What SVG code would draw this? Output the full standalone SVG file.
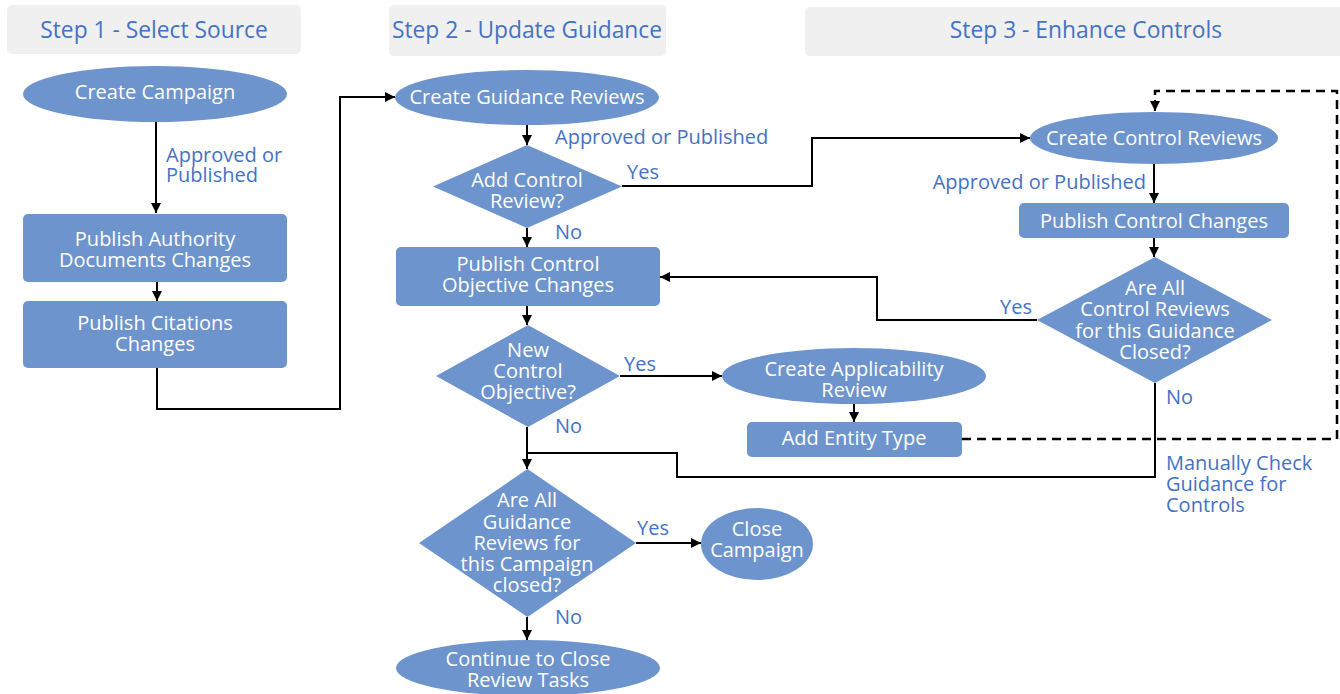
<svg xmlns="http://www.w3.org/2000/svg" width="1340" height="694" viewBox="0 0 1340 694">
<style>
.hdr{fill:#f0f0f0}
.ht{font-family:"Open Sans",sans-serif;font-size:22.8px;fill:#4472c4;text-anchor:middle}
.n{fill:#6d94cc}
.t{font-family:"Open Sans",sans-serif;font-size:20px;fill:#ffffff;text-anchor:middle}
.l{font-family:"Open Sans",sans-serif;font-size:20px;fill:#4472c4}
.c{fill:none;stroke:#000;stroke-width:2}
.d{fill:none;stroke:#000;stroke-width:2.5;stroke-dasharray:9 6}
</style>
<defs>
<marker id="a" viewBox="0 0 10 10" refX="10" refY="5" markerWidth="10" markerHeight="10" markerUnits="userSpaceOnUse" orient="auto">
<path d="M0,0 L10,5 L0,10 z" fill="#000"/>
</marker>
</defs>
<rect width="1340" height="694" fill="#fff"/>
<g id="headers">
<rect class="hdr" x="7" y="5" width="294" height="49" rx="5"/>
<text class="ht" x="154" y="38">Step 1 - Select Source</text>
<rect class="hdr" x="389" y="5" width="277" height="51" rx="5"/>
<text class="ht" x="527" y="38">Step 2 - Update Guidance</text>
<rect class="hdr" x="805" y="7" width="540" height="49" rx="5"/>
<text class="ht" x="1086" y="38">Step 3 - Enhance Controls</text>
</g>
<g id="connectors">
<path class="c" d="M156,122 V213" marker-end="url(#a)"/>
<path class="c" d="M157,282 V301" marker-end="url(#a)"/>
<path class="c" d="M157,368 V409 H340 V97 H395" marker-end="url(#a)"/>
<path class="c" d="M527,125 V145" marker-end="url(#a)"/>
<path class="c" d="M622,186 H812 V138 H1030" marker-end="url(#a)"/>
<path class="c" d="M527,228 V247" marker-end="url(#a)"/>
<path class="c" d="M1037,320 H877 V277 H660" marker-end="url(#a)"/>
<path class="c" d="M527,306 V325" marker-end="url(#a)"/>
<path class="c" d="M620,376 H722" marker-end="url(#a)"/>
<path class="c" d="M854,404 V422" marker-end="url(#a)"/>
<path class="c" d="M527,427 V469" marker-end="url(#a)"/>
<path class="c" d="M1155,383 V477 H677 V453 H527"/>
<path class="c" d="M1154,164 V203" marker-end="url(#a)"/>
<path class="c" d="M1154,238 V257" marker-end="url(#a)"/>
<path class="d" d="M962,439 H1337 V91 H1155 V104"/>
<path class="c" d="M1155,100 V111" marker-end="url(#a)"/>
<path class="c" d="M636,543 H701" marker-end="url(#a)"/>
<path class="c" d="M527,617 V640" marker-end="url(#a)"/>
</g>
<g id="labels">
<text class="l" x="166" y="162">Approved or</text>
<text class="l" x="166" y="182">Published</text>
<text class="l" x="555" y="144">Approved or Published</text>
<text class="l" x="627" y="179">Yes</text>
<text class="l" x="555" y="239">No</text>
<text class="l" x="624" y="371">Yes</text>
<text class="l" x="555" y="433">No</text>
<text class="l" x="1146" y="189" text-anchor="end">Approved or Published</text>
<text class="l" x="1000" y="314">Yes</text>
<text class="l" x="1166" y="404">No</text>
<text class="l" x="1166" y="470">Manually Check</text>
<text class="l" x="1166" y="491">Guidance for</text>
<text class="l" x="1166" y="512">Controls</text>
<text class="l" x="637" y="535">Yes</text>
<text class="l" x="555" y="624">No</text>
</g>
<g id="create-campaign">
<ellipse class="n" cx="155" cy="94" rx="132" ry="28"/>
<text class="t" x="155" y="99">Create Campaign</text>
</g>
<g id="publish-authority">
<rect class="n" x="23" y="214" width="264" height="68" rx="5"/>
<text class="t" x="155" y="246">Publish Authority</text>
<text class="t" x="155" y="267">Documents Changes</text>
</g>
<g id="publish-citations">
<rect class="n" x="23" y="301" width="264" height="67" rx="5"/>
<text class="t" x="155" y="330">Publish Citations</text>
<text class="t" x="155" y="351">Changes</text>
</g>
<g id="create-guidance-reviews">
<ellipse class="n" cx="527" cy="97.5" rx="132" ry="27.5"/>
<text class="t" x="527" y="104">Create Guidance Reviews</text>
</g>
<g id="add-control-review">
<polygon class="n" points="527,145 622,186.5 527,228 433,186.5"/>
<text class="t" x="527" y="187">Add Control</text>
<text class="t" x="527" y="208">Review?</text>
</g>
<g id="publish-control-objective">
<rect class="n" x="396" y="247" width="264" height="59" rx="5"/>
<text class="t" x="528" y="271">Publish Control</text>
<text class="t" x="528" y="292">Objective Changes</text>
</g>
<g id="new-control-objective">
<polygon class="n" points="528,325 620,376 528,427 436,376"/>
<text class="t" x="528" y="357">New</text>
<text class="t" x="528" y="378">Control</text>
<text class="t" x="528" y="399">Objective?</text>
</g>
<g id="create-applicability-review">
<ellipse class="n" cx="854" cy="376" rx="132" ry="28"/>
<text class="t" x="854" y="376">Create Applicability</text>
<text class="t" x="854" y="397">Review</text>
</g>
<g id="add-entity-type">
<rect class="n" x="747" y="422" width="215" height="35" rx="5"/>
<text class="t" x="854" y="445">Add Entity Type</text>
</g>
<g id="create-control-reviews">
<ellipse class="n" cx="1154" cy="138" rx="124" ry="26"/>
<text class="t" x="1154" y="145">Create Control Reviews</text>
</g>
<g id="publish-control-changes">
<rect class="n" x="1019" y="203" width="270" height="35" rx="5"/>
<text class="t" x="1154" y="228">Publish Control Changes</text>
</g>
<g id="all-control-reviews-closed">
<polygon class="n" points="1155,257 1272,320 1155,383 1037,320"/>
<text class="t" x="1155" y="295">Are All</text>
<text class="t" x="1155" y="316">Control Reviews</text>
<text class="t" x="1155" y="338">for this Guidance</text>
<text class="t" x="1155" y="359">Closed?</text>
</g>
<g id="all-guidance-reviews-closed">
<polygon class="n" points="527.5,469 636,543 527.5,617 419,543"/>
<text class="t" x="527" y="507">Are All</text>
<text class="t" x="527" y="529">Guidance</text>
<text class="t" x="527" y="550">Reviews for</text>
<text class="t" x="527" y="571">this Campaign</text>
<text class="t" x="527" y="592">closed?</text>
</g>
<g id="close-campaign">
<ellipse class="n" cx="757" cy="544" rx="56" ry="36"/>
<text class="t" x="757" y="536">Close</text>
<text class="t" x="757" y="557">Campaign</text>
</g>
<g id="continue-close-review-tasks">
<ellipse class="n" cx="528" cy="668" rx="132" ry="28"/>
<text class="t" x="528" y="666">Continue to Close</text>
<text class="t" x="528" y="687">Review Tasks</text>
</g>
</svg>
